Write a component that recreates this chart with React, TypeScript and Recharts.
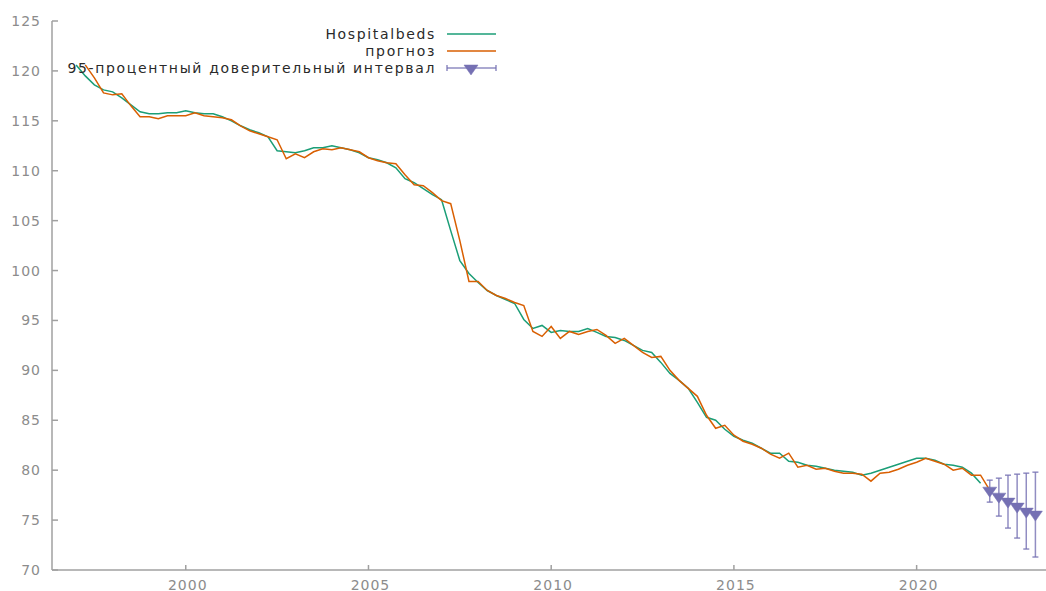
import React from "react";
import { ComposedChart, Line, Scatter, ErrorBar, XAxis, YAxis } from "recharts";

// Quarterly observations, 1997Q1 .. 2021Q4
const START_YEAR = 1997;
const hospitalbeds = [
  120.6, 119.5, 118.6, 118.1,
  117.9, 117.3, 116.6, 115.9,
  115.7, 115.7, 115.8, 115.8,
  116.0, 115.8, 115.7, 115.7,
  115.4, 115.0, 114.5, 114.1,
  113.8, 113.4, 112.0, 111.9,
  111.8, 112.0, 112.3, 112.3,
  112.5, 112.3, 112.1, 111.8,
  111.3, 111.1, 110.8, 110.3,
  109.2, 108.8, 108.2, 107.6,
  107.1, 104.0, 101.0, 99.7,
  98.8, 98.0, 97.5, 97.1,
  96.7, 95.1, 94.2, 94.5,
  93.8, 94.0, 93.9, 93.9,
  94.2, 93.8, 93.4, 93.3,
  93.0, 92.5, 92.0, 91.8,
  90.8, 89.7, 89.0, 88.2,
  86.8, 85.3, 85.0, 84.1,
  83.4, 83.0, 82.7, 82.2,
  81.7, 81.7, 80.9, 80.8,
  80.5, 80.4, 80.2, 80.0,
  79.9, 79.8, 79.5, 79.7,
  80.0, 80.3, 80.6, 80.9,
  81.2, 81.2, 81.0, 80.6,
  80.5, 80.3, 79.7, 78.7,
];

// One-step-ahead forecast, 1997Q1 .. 2022Q1 (null where absent)
const prognoz = [
  null, 120.6, 119.3, 117.8,
  117.6, 117.7, 116.5, 115.4,
  115.4, 115.2, 115.5, 115.5,
  115.5, 115.8, 115.5, 115.4,
  115.3, 115.1, 114.5, 114.0,
  113.7, 113.4, 113.1, 111.2,
  111.7, 111.3, 111.9, 112.2,
  112.1, 112.3, 112.1, 111.9,
  111.3, 111.0, 110.8, 110.7,
  109.6, 108.6, 108.5, 107.8,
  107.0, 106.7, 103.0, 98.9,
  98.9, 98.0, 97.5, 97.2,
  96.8, 96.5, 93.9, 93.4,
  94.4, 93.2, 93.9, 93.6,
  93.9, 94.1, 93.5, 92.7,
  93.2, 92.5, 91.8, 91.3,
  91.4, 90.0, 89.0, 88.2,
  87.4, 85.5, 84.2, 84.5,
  83.5, 82.9, 82.6, 82.2,
  81.6, 81.2, 81.7, 80.3,
  80.5, 80.1, 80.2, 79.9,
  79.7, 79.7, 79.6, 78.9,
  79.7, 79.8, 80.1, 80.5,
  80.8, 81.2, 80.9, 80.6,
  80.0, 80.2, 79.5, 79.5,
  78.0,
];

// Out-of-sample forecast with 95% interval
const fcTime = [2022.0, 2022.25, 2022.5, 2022.75, 2023.0, 2023.25];
const fcMid = [77.9, 77.3, 76.8, 76.3, 75.8, 75.5];
const fcLow = [76.8, 75.4, 74.2, 73.2, 72.1, 71.3];
const fcHigh = [79.0, 79.2, 79.5, 79.6, 79.7, 79.8];

const xTicks = [2000, 2005, 2010, 2015, 2020];
const yTicks = [70, 75, 80, 85, 90, 95, 100, 105, 110, 115, 120, 125];

const legendLabels = ["Hospitalbeds", "прогноз", "95-процентный доверительный интервал"];

const GREEN = "#1b9e77";
const ORANGE = "#d95f02";
const PURPLE = "#7570b3";
const AXIS = "#a0a0a0";
const TICKTEXT = "#8c8c8c";
const FONT = "'DejaVu Sans', sans-serif";

const nQ = Math.max(hospitalbeds.length, prognoz.length);
const lineData = Array.from({ length: nQ }, (_, i) => ({
  t: START_YEAR + i / 4,
  hosp: i < hospitalbeds.length ? hospitalbeds[i] : null,
  fc: i < prognoz.length ? prognoz[i] : null,
}));

const fcData = fcTime.map((t, i) => ({
  t,
  mid: fcMid[i],
  err: [fcMid[i] - fcLow[i], fcHigh[i] - fcMid[i]],
}));

const YTick = (props: any) => {
  const { x, y, payload } = props;
  return (
    <g>
      <line x1={x} x2={x + 6} y1={y} y2={y} stroke={AXIS} strokeWidth={1.5} />
      <text x={x - 11} y={y + 5} textAnchor="end" fill={TICKTEXT} fontSize={14} fontFamily={FONT} letterSpacing={1}>
        {payload.value}
      </text>
    </g>
  );
};

const XTick = (props: any) => {
  const { x, y, payload } = props;
  return (
    <g>
      <line x1={x} x2={x} y1={y} y2={y - 5} stroke={AXIS} strokeWidth={1.5} />
      <text x={x + 2} y={y + 19.5} textAnchor="middle" fill={TICKTEXT} fontSize={14} fontFamily={FONT} letterSpacing={1}>
        {payload.value}
      </text>
    </g>
  );
};

const DownTriangle = (props: any) => {
  const { cx, cy } = props;
  if (cx == null || cy == null) return null;
  return (
    <polygon
      points={`${cx - 7},${cy - 4} ${cx + 7},${cy - 4} ${cx},${cy + 6}`}
      fill={PURPLE}
      stroke={PURPLE}
      strokeWidth={0.5}
    />
  );
};

const Legend = () => {
  const textEnd = 436;
  const x1 = 447;
  const x2 = 496;
  const rows = [34, 51, 68];
  return (
    <svg width={520} height={90} style={{ position: "absolute", left: 0, top: 0, pointerEvents: "none" }}>
      {legendLabels.map((lab, i) => (
        <text key={lab} x={textEnd} y={rows[i] + 5} textAnchor="end" fill="#2a2a2a" fontSize={14} fontFamily={FONT} letterSpacing={1.65}>
          {lab}
        </text>
      ))}
      <line x1={x1} x2={x2} y1={rows[0]} y2={rows[0]} stroke={GREEN} strokeWidth={1.5} />
      <line x1={x1} x2={x2} y1={rows[1]} y2={rows[1]} stroke={ORANGE} strokeWidth={1.5} />
      <line x1={x1} x2={x2} y1={rows[2]} y2={rows[2]} stroke={PURPLE} strokeWidth={1.5} opacity={0.8} />
      <line x1={x1} x2={x1} y1={rows[2] - 3} y2={rows[2] + 3} stroke={PURPLE} strokeWidth={1.5} opacity={0.8} />
      <line x1={x2} x2={x2} y1={rows[2] - 3} y2={rows[2] + 3} stroke={PURPLE} strokeWidth={1.5} opacity={0.8} />
      <DownTriangle cx={471} cy={rows[2] + 1} />
    </svg>
  );
};

export default function App() {
  return (
    <div style={{ position: "absolute", left: 0, top: 0, width: 1046, height: 591, background: "#fff" }}>
      <ComposedChart
        width={1046}
        height={591}
        margin={{ top: 21, right: 0, bottom: 20, left: 51 }}
      >
        <XAxis
          dataKey="t"
          type="number"
          domain={[1996.34, 2023.54]}
          ticks={xTicks}
          allowDataOverflow
          height={1}
          tickSize={0}
          tickMargin={0}
          axisLine={{ stroke: AXIS, strokeWidth: 1.5 }}
          tickLine={false}
          tick={<XTick />}
          interval={0}
        />
        <YAxis
          type="number"
          domain={[70, 125]}
          ticks={yTicks}
          allowDataOverflow
          width={1}
          tickSize={0}
          tickMargin={0}
          axisLine={{ stroke: AXIS, strokeWidth: 1.5 }}
          tickLine={false}
          tick={<YTick />}
          interval={0}
        />
        <Line
          data={lineData}
          dataKey="hosp"
          type="linear"
          stroke={GREEN}
          strokeWidth={1.5}
          dot={false}
          activeDot={false}
          isAnimationActive={false}
        />
        <Line
          data={lineData}
          dataKey="fc"
          type="linear"
          stroke={ORANGE}
          strokeWidth={1.5}
          dot={false}
          activeDot={false}
          isAnimationActive={false}
        />
        <Scatter
          data={fcData}
          dataKey="mid"
          fill={PURPLE}
          shape={<DownTriangle />}
          isAnimationActive={false}
        >
          <ErrorBar dataKey="err" direction="y" width={3} stroke={PURPLE} strokeWidth={1.5} strokeOpacity={0.8} isAnimationActive={false} />
        </Scatter>
      </ComposedChart>
      <Legend />
    </div>
  );
}
